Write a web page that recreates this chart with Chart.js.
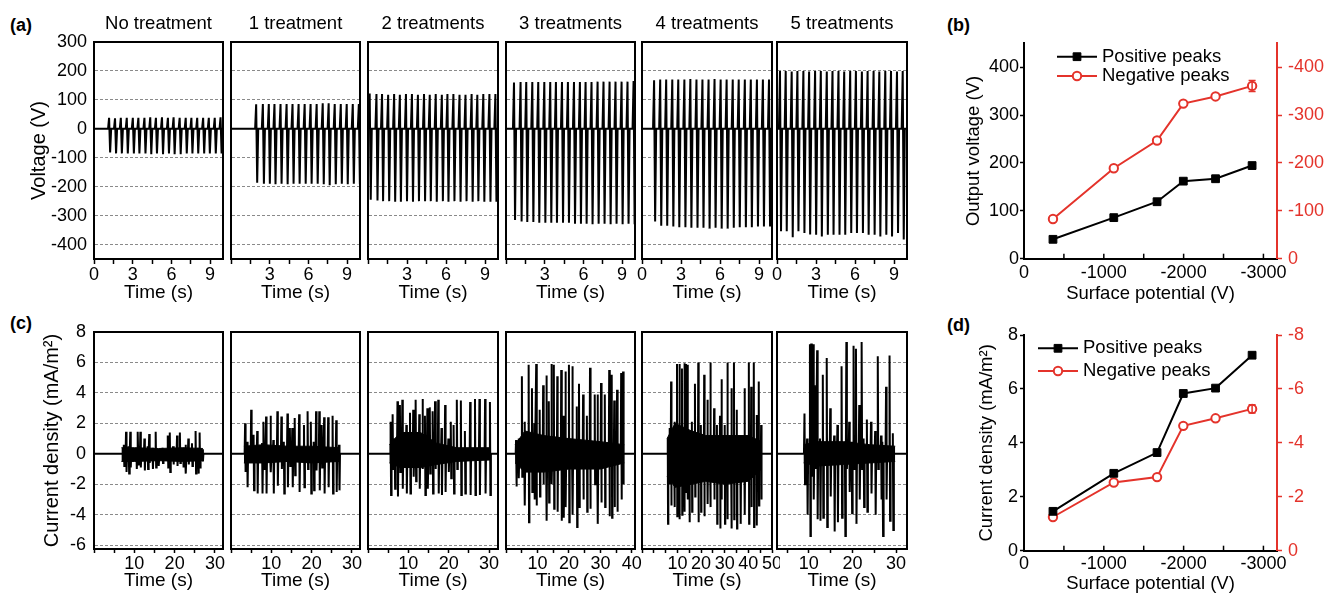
<!DOCTYPE html>
<html><head><meta charset="utf-8">
<script src="https://cdn.jsdelivr.net/npm/chart.js@4.4.1/dist/chart.umd.min.js"></script>
<style>
html,body{margin:0;padding:0;background:#fff;}
body{position:relative;width:1341px;height:595px;overflow:hidden;}
canvas{position:absolute;}
.pl{position:absolute;font:bold 18px "Liberation Sans",Arial,sans-serif;line-height:18px;color:#000;}
</style></head><body>
<div class="pl" style="left:10px;top:16px">(a)</div>
<div class="pl" style="left:947px;top:16px">(b)</div>
<div class="pl" style="left:10px;top:314px">(c)</div>
<div class="pl" style="left:947px;top:316px">(d)</div>
<script>
// ---------- (a) output voltage: spike times (s), positive and negative peaks (V) ----------
const titlesA=['No treatment','1 treatment','2 treatments','3 treatments','4 treatments','5 treatments'];
const v1T=[1.17,1.63,2.08,2.54,3.01,3.44,3.91,4.36,4.80,5.27,5.73,6.17,6.64,7.11,7.55,8.00,8.46,8.90,9.36,9.81];
const v1P=[38,36,38,38,38,38,38,40,38,40,38,40,38,38,38,38,38,38,38,40];
const v1N=[-82,-85,-85,-85,-85,-85,-85,-88,-85,-88,-85,-88,-88,-85,-85,-85,-85,-85,-85,-85];
const v2T=[1.95,2.47,2.93,3.37,3.84,4.31,4.77,5.24,5.71,6.17,6.64,7.11,7.57,8.04,8.51,8.97,9.44,9.91];
const v2P=[85,86,86,86,86,86,86,86,86,86,86,88,88,86,86,86,86,86];
const v2N=[-186,-190,-190,-192,-190,-192,-190,-190,-190,-190,-190,-192,-195,-192,-190,-192,-190,-192];
const v3T=[0.13,0.65,1.08,1.55,2.01,2.45,2.92,3.38,3.84,4.31,4.75,5.21,5.68,6.11,6.57,7.04,7.50,7.97,8.41,8.87,9.34,9.80];
const v3P=[122,120,120,118,120,118,120,120,118,120,118,120,118,120,120,118,118,120,118,120,120,120];
const v3N=[-245,-248,-250,-250,-252,-252,-250,-252,-250,-250,-250,-252,-250,-252,-250,-252,-250,-252,-250,-252,-252,-252];
const v4T=[0.62,1.13,1.57,2.04,2.50,2.97,3.43,3.87,4.34,4.80,5.27,5.73,6.17,6.63,7.10,7.56,8.03,8.49,8.96,9.42,9.89];
const v4P=[160,162,162,162,162,162,162,162,162,162,162,162,162,162,163,163,163,163,163,163,165];
const v4N=[-315,-320,-322,-322,-325,-325,-325,-325,-325,-325,-328,-328,-328,-330,-328,-328,-330,-328,-330,-328,-330];
const v5T=[0.93,1.40,1.86,2.33,2.79,3.26,3.72,4.19,4.65,5.12,5.58,6.05,6.51,6.98,7.44,7.91,8.37,8.84,9.30,9.77];
const v5P=[168,170,170,170,170,170,172,170,170,170,172,170,170,170,170,170,170,170,170,170];
const v5N=[-320,-335,-335,-338,-340,-340,-342,-342,-342,-345,-342,-345,-345,-342,-340,-340,-340,-338,-338,-338];
const v6T=[0.23,0.67,1.13,1.57,2.03,2.47,2.93,3.37,3.83,4.27,4.73,5.17,5.63,6.07,6.53,6.97,7.43,7.87,8.33,8.77,9.23,9.67];
const v6P=[200,200,198,200,200,198,200,200,198,200,200,198,200,200,198,200,200,198,200,200,198,200];
const v6N=[-354,-354,-375,-354,-360,-365,-366,-372,-366,-366,-366,-366,-360,-360,-360,-366,-366,-372,-366,-372,-360,-383];
const zeroLabelA=[true,false,false,false,true,true];

// ---------- (c) current density: spike times (s), positive / negative peaks (mA/m2), noise band ----------
const c1T=[7.4,7.95,8.6,9.0,10.5,10.9,11.5,12.5,13.3,13.7,14.5,15.3,16.0,17.0,18.3,18.8,19.6,20.6,21.3,22.1,22.7,23.4,24.3,25.2,25.8,26.2,26.9];
const c1P=[0.6,1.45,0.5,1.45,0.4,1.45,1.45,1.0,0.5,1.3,0.4,1.45,0.3,0.4,1.2,1.4,0.5,1.2,1.4,0.4,0.6,1.0,0.7,1.5,0.4,1.4,0.3];
const c1N=[-0.8,-1.2,-1.3,-0.9,-1.0,-0.7,-0.9,-1.1,-1.0,-0.6,-1.0,-0.9,-0.8,-0.6,-0.9,-1.2,-0.7,-0.8,-0.6,-0.9,-1.3,-0.7,-0.8,-1.3,-1.3,-0.9,-0.5];
const c1BT=[6.8,10,16,22,27.0], c1BH=[0.4,0.4,0.35,0.4,0.35], c1BL=[-0.5,-0.5,-0.45,-0.5,-0.45];

const c2T=[3.5,4.0,5.0,5.6,6.5,7.7,8.1,8.7,9.8,10.5,11.5,12.5,13.1,14.0,14.6,15.2,15.8,16.9,18.1,19.0,19.8,20.5,21.1,21.9,22.5,23.1,24.1,25.2,26.1,26.8];
const c2P=[2.0,0.8,2.9,1.25,1.5,0.7,2.1,2.45,2.5,0.9,2.8,2.45,0.8,2.65,1.7,1.7,2.35,2.6,1.9,2.8,2.1,0.8,2.8,2.8,1.9,2.4,2.4,2.5,2.2,0.6];
const c2N=[-1.2,-2.2,-0.6,-2.4,-2.6,-2.6,-1.0,-2.6,-1.2,-2.6,-2.1,-1.0,-2.6,-2.2,-0.8,-2.2,-1.4,-2.5,-2.2,-1.0,-2.6,-2.4,-1.1,-2.4,-0.9,-2.6,-2.2,-2.6,-2.5,-2.4];
const c2BT=[3.2,8,14,20,26.9], c2BH=[0.5,0.6,0.5,0.5,0.4], c2BL=[-0.6,-0.6,-0.5,-0.6,-0.5];

const c3T=[5.6,6.1,6.6,7.3,7.9,8.5,9.5,10.4,11.2,11.8,12.7,13.5,14.1,14.7,15.3,16.0,16.6,17.4,18.2,19.1,19.9,20.5,21.2,22.0,23.0,24.0,25.3,26.5,27.6,29.0,30.2];
const c3P=[2.1,2.6,1.0,3.45,3.2,3.55,1.9,2.7,2.9,3.55,2.6,3.6,2.5,3.0,3.05,2.8,3.45,3.55,1.7,3.2,1.0,2.1,1.9,3.55,3.5,1.5,3.4,3.6,3.6,3.6,3.4];
const c3N=[-2.7,-1.0,-2.3,-2.8,-1.2,-2.3,-2.6,-2.6,-1.5,-1.8,-2.3,-1.0,-2.7,-2.3,-1.3,-2.6,-1.0,-2.6,-2.7,-2.5,-1.2,-1.6,-2.6,-1.0,-2.7,-2.6,-2.7,-2.7,-2.7,-2.6,-2.7];
const c3BT=[5.3,8,13,17,22,30.4], c3BH=[0.6,1.4,1.4,0.7,0.4,0.4], c3BL=[-0.6,-0.9,-0.9,-0.7,-0.5,-0.4];

const c4T=[3.2,4.0,5.05,5.9,7.2,8.25,9.0,9.6,10.7,11.8,12.85,13.6,14.45,15.2,16.3,17.55,18.3,18.9,20.0,21.1,22.5,23.2,24.5,25.7,26.7,28.2,29.1,30.2,31.4,32.8,33.6,34.4,35.3,36.6,37.2];
const c4P=[0.9,1.0,5.1,2.1,5.85,4.3,2.0,5.9,2.9,4.5,5.15,3.45,5.9,5.85,5.1,5.5,2.5,5.4,5.85,5.75,3.1,4.6,3.9,2.5,5.65,3.9,3.9,4.65,3.9,5.5,5.2,3.5,4.2,5.3,5.4];
const c4N=[-2.15,-1.6,-1.5,-3.4,-4.5,-2.5,-3.0,-3.4,-2.8,-2.0,-4.4,-3.2,-2.0,-3.6,-3.8,-4.4,-4.2,-3.5,-4.5,-4.0,-4.8,-3.5,-3.0,-3.8,-3.6,-2.0,-4.6,-3.2,-3.5,-4.1,-4.2,-3.5,-3.8,-3.0,-2.0];
const c4BT=[2.9,6,12,20,30,37.6], c4BH=[0.6,1.5,1.2,1.0,0.8,0.6], c4BL=[-0.6,-1.2,-1.2,-1.0,-1.0,-0.6];

const c5T=[5.9,6.6,7.3,8.7,9.8,10.8,11.9,12.9,13.6,14.3,15.0,16.1,17.4,18.8,19.9,21.3,22.7,23.9,25.5,26.7,28.0,28.6,30.0,31.1,32.8,33.9,35.1,36.7,38.4,40.2,41.2,42.3,43.5,44.4,45.4];
const c5P=[1.0,1.7,4.75,2.1,5.9,5.9,5.6,5.95,5.9,5.85,0.8,2.1,4.6,6.0,1.9,5.2,3.55,6.0,3.0,1.9,2.5,4.9,1.9,6.0,4.3,6.0,2.9,1.0,4.3,6.0,4.4,6.0,2.55,4.75,1.9];
const c5N=[-4.6,-2.0,-3.4,-3.5,-4.1,-4.3,-4.0,-3.8,-2.5,-3.0,-4.5,-3.8,-2.8,-4.5,-3.8,-4.1,-3.3,-3.5,-3.0,-4.6,-4.9,-3.0,-4.6,-4.3,-4.9,-4.3,-4.9,-4.6,-4.0,-4.6,-3.5,-4.8,-4.7,-3.4,-3.0];
const c5BT=[5.6,9,16,22,30,40,45.6], c5BH=[1.0,2.0,1.5,1.2,1.2,1.2,0.8], c5BL=[-1.5,-2.2,-2.0,-1.8,-2.0,-1.8,-1.0];

const c6T=[9.0,9.6,10.25,10.55,11.0,11.4,11.9,12.55,13.2,14.1,14.9,15.8,16.55,17.5,18.25,18.6,19.25,19.8,20.25,20.8,21.55,22.1,22.55,23.3,24.25,25.2,25.8,26.55,26.9,27.7,28.5,29.25];
const c6P=[2.65,1.0,7.2,7.25,7.2,4.5,6.8,1.0,5.2,6.3,3.0,1.2,1.9,5.75,0.8,7.35,2.1,0.8,7.1,6.9,3.2,7.35,1.0,2.25,2.1,1.5,6.4,1.2,0.8,4.4,6.45,1.35];
const c6N=[-2.0,-4.0,-5.4,-1.5,-3.0,-1.0,-4.3,-4.4,-4.2,-4.8,-2.8,-5.1,-4.5,-4.2,-5.4,-1.0,-2.5,-3.9,-1.0,-4.6,-3.0,-1.0,-3.5,-3.8,-2.6,-4.0,-1.0,-3.0,-5.4,-3.0,-4.4,-5.0];
const c6BT=[8.8,12,18,24,29.8], c6BH=[0.6,0.8,0.8,0.6,0.5], c6BL=[-0.6,-0.8,-0.7,-0.6,-0.5];

const cXmin=[0,0,0,0,-5,2.7];
const cXmax=[32,32,32.2,41,50,32.5];

// ---------- (b), (d) ----------
const potential=[-363,-1125,-1667,-1996,-2400,-2858];
const potentialTicks=[0,-500,-1000,-1500,-2000,-2500,-3000];
const posVoltage=[40.5,85.8,119,162,167,194.6];
const negVoltage=[-83,-189,-247,-324,-339,-361];
const errVoltage=[0,0,0,0,0,11.5];
const posCurrent=[1.46,2.87,3.64,5.83,6.03,7.25];
const negCurrent=[-1.25,-2.53,-2.73,-4.63,-4.91,-5.26];
const errCurrent=[0,0,0,0,0,0.15];

// ---------- drawing ----------
const FONT='"Liberation Sans", Arial, sans-serif';
Chart.defaults.font.family=FONT;
Chart.defaults.color='#000';
const RED='#e4332b';
const GRID='#8a8a8a';
const PL=[94,231,368,506,642,777], PW=[129,129,130,129,130,130];

function mk(x,y,w,h){const c=document.createElement('canvas');c.width=w;c.height=h;c.style.left=x+'px';c.style.top=y+'px';c.style.width=w+'px';c.style.height=h+'px';document.body.appendChild(c);return c;}
function spikes(T,P,N,x0,x1,dt){const d=[{x:x0,y:0}];for(let k=0;k<T.length;k++){d.push({x:T[k]-dt,y:0},{x:T[k],y:P[k]},{x:T[k]+dt,y:N[k]},{x:T[k]+2*dt,y:0});}d.push({x:x1,y:0});return d;}
function band(T,V){return T.map((t,k)=>({x:t,y:V[k]}));}
const framePlugin={id:'frame',afterDraw(ch){const a=ch.chartArea,c=ch.ctx;c.save();c.strokeStyle='#000';c.lineWidth=2;c.strokeRect(a.left,a.top,a.right-a.left,a.bottom-a.top);c.restore();}};

function smallChart(i,row,datasets,xmin,xmax,xstep,xcb){
  const g=row===0?{cTop:0,cH:310,aTop:42,aBot:259,xh:46,tl:5,tp:1}:{cTop:310,cH:285,aTop:332,aBot:549,xh:43,tl:4,tp:0};
  const yw=70,rp=8;
  const cv=mk(PL[i]-yw,g.cTop,PW[i]+yw+rp,g.cH);
  const padBottom=g.cH-(g.aBot-g.cTop)-g.xh;
  new Chart(cv,{type:'line',data:{datasets},options:{
    responsive:false,animation:false,events:[],devicePixelRatio:1,
    layout:{padding:{left:0,right:rp,top:row===0?0:g.aTop-g.cTop,bottom:padBottom}},
    elements:{point:{radius:0},line:{tension:0}},
    plugins:{legend:{display:false},tooltip:{enabled:false},
      title:{display:row===0,text:row===0?titlesA[i]:'',fullSize:false,font:{size:18.5,weight:'normal'},color:'#000',padding:{top:12.4,bottom:7.4}}},
    scales:{
      x:{type:'linear',min:xmin,max:xmax,
        border:{display:true,color:'#000',width:2},
        grid:{display:true,drawOnChartArea:false,drawTicks:true,tickLength:g.tl,tickColor:'#000',tickWidth:1.5},
        ticks:{stepSize:xstep,autoSkip:false,maxRotation:0,includeBounds:false,padding:0,font:{size:18},color:'#000',callback:xcb},
        title:{display:true,text:'Time (s)',font:{size:19},padding:g.tp,color:'#000'},
        afterFit(s){s.height=g.xh;s.paddingLeft=0;s.paddingRight=0;}},
      y:{type:'linear',min:row===0?-450:-6.25,max:row===0?300:8,
        border:{display:true,color:'#000',width:2,dash:[3,2]},
        grid:{display:true,color:GRID,lineWidth:1,drawTicks:false,drawOnChartArea:true},
        ticks:{stepSize:row===0?100:2,includeBounds:false,display:i===0,padding:row===0?7:8,font:{size:18},color:'#000'},
        title:{display:i===0,text:row===0?'Voltage (V)':'Current density (mA/m²)',font:{size:20},padding:row===0?3:16,color:'#000'},
        afterFit(s){s.width=yw;s.paddingTop=0;s.paddingBottom=0;}}
    }},plugins:[framePlugin]});
}

const VT=[v1T,v2T,v3T,v4T,v5T,v6T],VP=[v1P,v2P,v3P,v4P,v5P,v6P],VN=[v1N,v2N,v3N,v4N,v5N,v6N];
for(let i=0;i<6;i++){
  const cb=(v)=>{const r=Math.round(v);if(Math.abs(v-r)>1e-6||r%3!==0)return '';if(r===0&&!zeroLabelA[i])return '';return String(r);};
  smallChart(i,0,[{data:spikes(VT[i],VP[i],VN[i],0,10,0.08),borderColor:'#000',borderWidth:2,pointRadius:0,fill:false}],0,10,1.5,cb);
}
const CT=[c1T,c2T,c3T,c4T,c5T,c6T],CP=[c1P,c2P,c3P,c4P,c5P,c6P],CN=[c1N,c2N,c3N,c4N,c5N,c6N];
const CBT=[c1BT,c2BT,c3BT,c4BT,c5BT,c6BT],CBH=[c1BH,c2BH,c3BH,c4BH,c5BH,c6BH],CBL=[c1BL,c2BL,c3BL,c4BL,c5BL,c6BL];
for(let i=0;i<6;i++){
  const cb=(v)=>(v>0&&Math.abs(v%10)<1e-6)?String(v):'';
  smallChart(i,1,[
    {data:spikes(CT[i],CP[i],CN[i],cXmin[i],cXmax[i],0.12),borderColor:'#000',borderWidth:2,pointRadius:0,fill:false},
    {data:band(CBT[i],CBH[i]),borderColor:'#000',borderWidth:1,pointRadius:0,fill:false},
    {data:band(CBT[i],CBL[i]),borderColor:'#000',borderWidth:1,pointRadius:0,fill:'-1',backgroundColor:'#000'}
  ],cXmin[i],cXmax[i],5,cb);
}

function drawMarker(ctx,ds,x,y){ctx.save();ctx.fillStyle=ds.pointBackgroundColor;ctx.strokeStyle=ds.pointBorderColor;ctx.lineWidth=ds.pointBorderWidth;ctx.beginPath();if(ds.pointStyle==='rect'){const s=ds.pointRadius*Math.SQRT1_2;ctx.rect(x-s,y-s,2*s,2*s);}else{ctx.arc(x,y,ds.pointRadius,0,Math.PI*2);}ctx.fill();ctx.stroke();ctx.restore();}
function legendPlugin(x,y,dy,len){return {id:'lineLegend',afterDraw(ch){const ctx=ch.ctx;ch.data.datasets.forEach((ds,k)=>{const yy=y+k*dy;ctx.save();ctx.strokeStyle=ds.borderColor;ctx.lineWidth=2;ctx.beginPath();ctx.moveTo(x,yy);ctx.lineTo(x+len,yy);ctx.stroke();drawMarker(ctx,ds,x+len/2,yy);ctx.fillStyle='#000';ctx.font='18.5px '+FONT;ctx.textBaseline='middle';ctx.textAlign='left';ctx.fillText(ds.label,x+len+5,yy);ctx.restore();});}};}
function errPlugin(errs,di){return {id:'errbars',afterDatasetsDraw(ch){const ctx=ch.ctx;const meta=ch.getDatasetMeta(di);const sc=ch.scales[meta.yAxisID];const ds=ch.data.datasets[di];meta.data.forEach((pt,k)=>{const e=errs[k];if(!e)return;const v=ds.data[k].y;const y1=sc.getPixelForValue(v-e),y2=sc.getPixelForValue(v+e);ctx.save();ctx.strokeStyle=ds.borderColor;ctx.lineWidth=1.5;ctx.beginPath();ctx.moveTo(pt.x,y1);ctx.lineTo(pt.x,y2);ctx.moveTo(pt.x-3.5,y1);ctx.lineTo(pt.x+3.5,y1);ctx.moveTo(pt.x-3.5,y2);ctx.lineTo(pt.x+3.5,y2);ctx.stroke();ctx.restore();});}};}
// inward tick marks on the potential axis, placed at the scale's own ticks
const innerTicks={id:'innerTicks',afterDraw(ch){const s=ch.scales.x,ctx=ch.ctx;ctx.save();ctx.strokeStyle='#000';ctx.lineWidth=1.5;s.ticks.forEach(t=>{const x=s.getPixelForValue(t.value);if(x<=s.left+1)return;ctx.beginPath();ctx.moveTo(x,s.top);ctx.lineTo(x,s.top-5);ctx.stroke();});ctx.restore();}};

// the surface-potential axis runs from 0 toward more negative values left-to-right: plot its magnitude, label with the sign
function sideChart(o){
  const cv=mk(940,o.cTop,401,o.cH);
  new Chart(cv,{type:'line',data:{datasets:[
    {label:'Positive peaks',data:potential.map((p,k)=>({x:-p,y:o.pos[k]})),yAxisID:'y',borderColor:'#000',borderWidth:2,pointStyle:'rect',pointRadius:5.5,pointBackgroundColor:'#000',pointBorderColor:'#000',pointBorderWidth:1},
    {label:'Negative peaks',data:potential.map((p,k)=>({x:-p,y:o.neg[k]})),yAxisID:'y2',borderColor:RED,borderWidth:2,pointStyle:'circle',pointRadius:4.2,pointBackgroundColor:'#fff',pointBorderColor:RED,pointBorderWidth:2}
  ]},options:{
    responsive:false,animation:false,events:[],devicePixelRatio:1,
    layout:{padding:{left:0,right:6,top:o.aTop-o.cTop,bottom:o.cH-(o.aBot-o.cTop)-o.xh}},
    elements:{line:{tension:0}},
    plugins:{legend:{display:false},tooltip:{enabled:false},title:{display:false}},
    scales:{
      x:{type:'linear',min:0,max:3170,
        border:{color:'#000',width:2},
        grid:{drawOnChartArea:false,drawTicks:false},
        afterBuildTicks(s){s.ticks=potentialTicks.map(v=>({value:-v}));},
        ticks:{autoSkip:false,maxRotation:0,padding:o.xpad,font:{size:18},color:'#000',callback:v=>(Math.abs(v%1000)<1e-6)?(v===0?'0':'-'+v):''},
        title:{display:true,text:'Surface potential (V)',font:{size:18.5},padding:o.xtpad,color:'#000'},
        afterFit(s){s.height=o.xh;s.paddingLeft=0;s.paddingRight=0;}},
      y:{position:'left',min:0,max:o.ymax,
        border:{color:'#000',width:2},
        grid:{drawOnChartArea:false,tickLength:4,tickColor:'#000',tickWidth:1.5},
        ticks:{stepSize:o.ystep,includeBounds:false,padding:o.ypad,font:{size:18},color:'#000'},
        title:{display:true,text:o.ytitle,font:{size:18.5},padding:o.ytpad,color:'#000'},
        afterFit(s){s.width=84;s.paddingTop=0;s.paddingBottom=0;}},
      y2:{position:'right',min:-o.ymax,max:0,reverse:true,
        border:{color:RED,width:2},
        grid:{drawOnChartArea:false,tickLength:5,tickColor:RED,tickWidth:1.5},
        ticks:{stepSize:o.ystep,includeBounds:false,padding:6,font:{size:18},color:RED},
        afterFit(s){s.width=58;s.paddingTop=0;s.paddingBottom=0;}}
    }},plugins:[innerTicks,legendPlugin(o.lx,o.ly,o.ldy,40),errPlugin(o.err,1)]});
}
sideChart({cTop:30,cH:280,aTop:43.3,aBot:258.7,xh:47,xpad:4,xtpad:1,ymax:450,ystep:100,ypad:1,ytitle:'Output voltage (V)',ytpad:23,pos:posVoltage,neg:negVoltage,err:errVoltage,lx:117,ly:26.7,ldy:19.3});
sideChart({cTop:320,cH:275,aTop:335,aBot:550.7,xh:44,xpad:3,xtpad:0,ymax:8,ystep:2,ypad:2,ytitle:'Current density (mA/m²)',ytpad:36,pos:posCurrent,neg:negCurrent,err:errCurrent,lx:98,ly:28.3,ldy:22.7});
</script>
</body></html>
